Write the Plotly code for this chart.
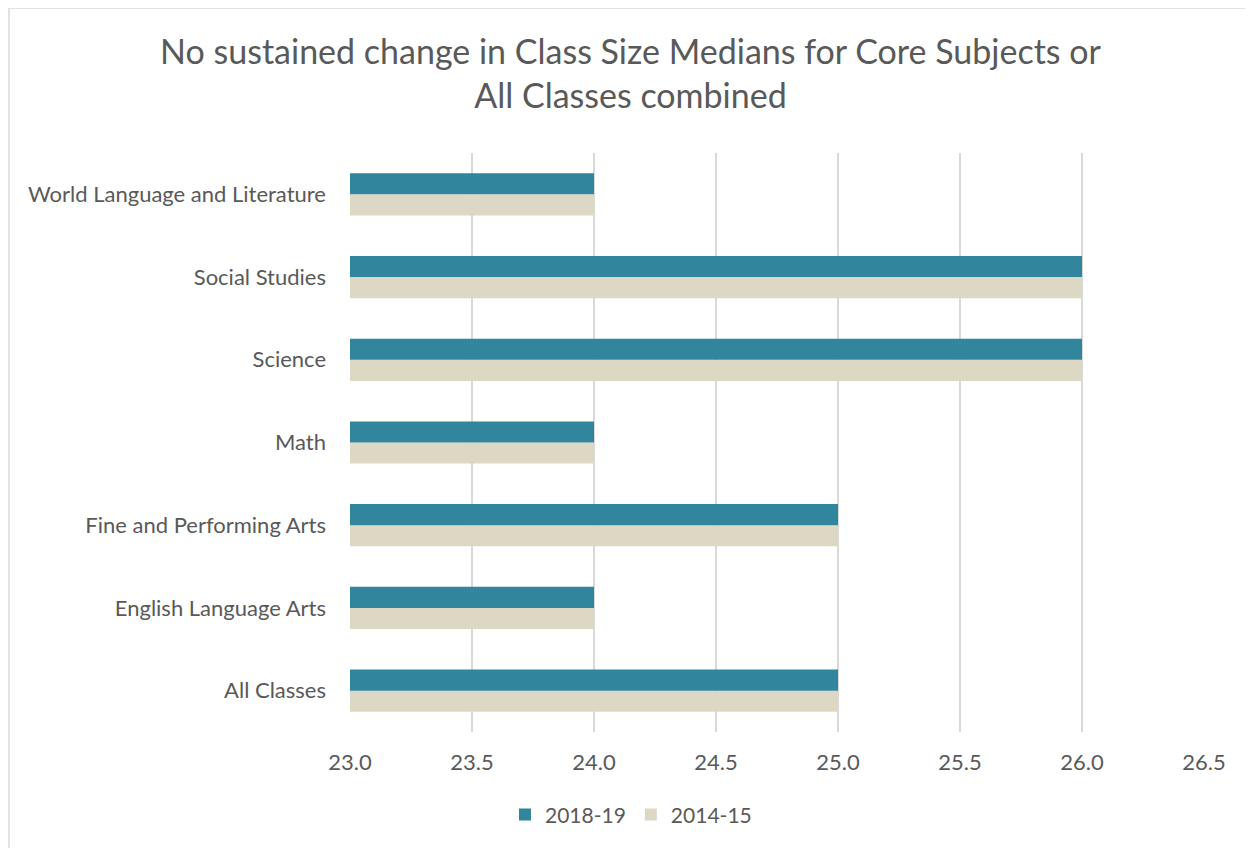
import plotly.graph_objects as go

categories = ["All Classes", "English Language Arts", "Fine and Performing Arts", "Math",
              "Science", "Social Studies", "World Language and Literature"]
values_2018_19 = [25, 24, 25, 24, 26, 26, 24]
values_2014_15 = [25, 24, 25, 24, 26, 26, 24]
x_ticks = [23.0, 23.5, 24.0, 24.5, 25.0, 25.5, 26.0, 26.5]

font_family = "Lato, Open Sans, sans-serif"
text_color = "#595959"

fig = go.Figure()
fig.add_trace(go.Bar(y=categories, x=values_2014_15, name="2014-15", orientation="h",
                     marker=dict(color="#ddd8c4", line=dict(width=0))))
fig.add_trace(go.Bar(y=categories, x=values_2018_19, name="2018-19", orientation="h",
                     marker=dict(color="#31859c", line=dict(width=0))))

fig.update_layout(
    width=1245, height=840,
    margin=dict(l=342, r=49, t=145, b=116, autoexpand=False),
    paper_bgcolor="white", plot_bgcolor="white",
    barmode="group", bargap=0.49, bargroupgap=0,
    font=dict(family=font_family, color=text_color, size=22),
    title=dict(text="No sustained change in Class Size Medians for Core Subjects or<br>All Classes combined",
               x=0.5, xref="container", xanchor="center", y=0.933, yanchor="middle",
               font=dict(size=34, color=text_color, family=font_family)),
    xaxis=dict(range=[23, 26.5], tickvals=x_ticks, ticktext=[f"{v:.1f}" for v in x_ticks],
               showgrid=True, gridcolor="#d9d9d9", gridwidth=2, zeroline=False,
               showline=False, ticks="", tickfont=dict(size=22), ticklabelstandoff=15,
               tickangle=0, automargin=False),
    yaxis=dict(showgrid=False, showline=False, ticks="", ticklabelstandoff=23,
               tickfont=dict(size=22), automargin=False),
    legend=dict(orientation="h", x=0.329, xanchor="center",
                y=-0.143, yanchor="middle",
                traceorder="reversed", font=dict(size=21), itemwidth=30),
    showlegend=True,
)

fig.add_shape(type="rect", xref="paper", yref="paper",
              x0=-0.3993, x1=1.0539, y0=-0.25, y1=1.2504,
              line=dict(color="#d9d9d9", width=1.5), fillcolor="rgba(0,0,0,0)", layer="below")

fig.write_html("out.html")
